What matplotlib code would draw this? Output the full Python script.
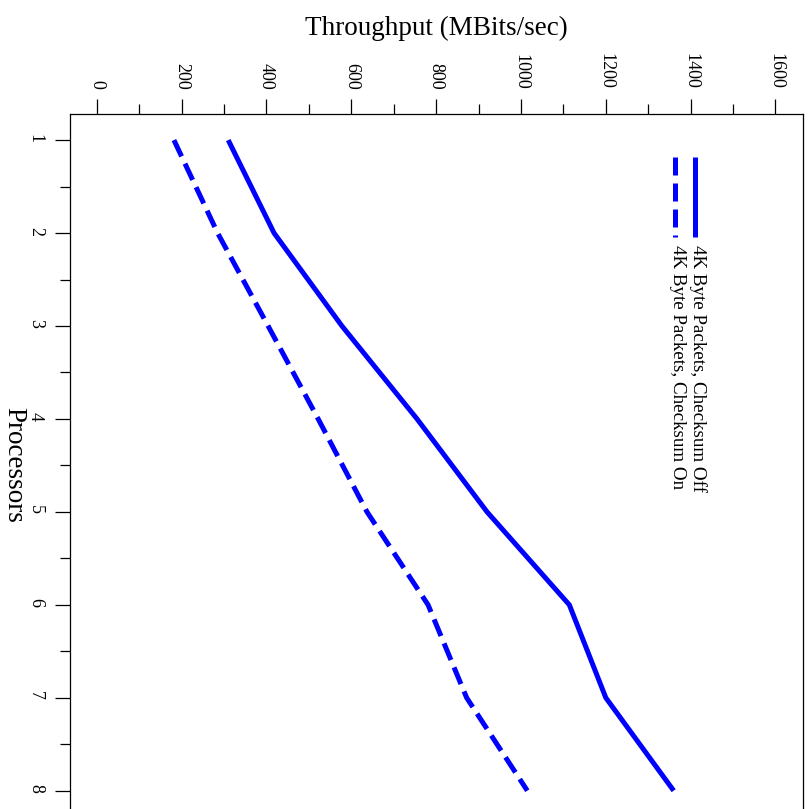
import matplotlib
matplotlib.use("Agg")
import matplotlib.pyplot as plt
from matplotlib.ticker import MultipleLocator

plt.rcParams["font.family"] = ["Liberation Serif", "DejaVu Serif"]

# Throughput per processor count
processors = [1, 2, 3, 4, 5, 6, 7, 8]
checksum_off = [310, 418, 578, 755, 920, 1114, 1200, 1360]
checksum_on = [182, 285, 404, 522, 637, 781, 872, 1015]
labels = ["4K Byte Packets, Checksum Off", "4K Byte Packets, Checksum On"]

fig = plt.figure(figsize=(8.12, 8.09), dpi=100)
ax = fig.add_axes([0.0862, 0.0, 0.9028, 0.859])

# page is turned sideways: throughput runs along the top, processors downwards
ax.plot(checksum_off, processors, color="#0000ff", lw=3.6, solid_capstyle="butt")
ax.plot(checksum_on, processors, color="#0000ff", lw=3.6, dashes=(3.6, 1.6),
        dash_capstyle="butt")

ax.set_xlim(-63, 1665)
ax.set_ylim(8.197, 0.72)

ax.xaxis.tick_top()
ax.xaxis.set_label_position("top")
ax.xaxis.set_major_locator(MultipleLocator(200))
ax.xaxis.set_minor_locator(MultipleLocator(100))
ax.yaxis.set_major_locator(MultipleLocator(1))
ax.yaxis.set_minor_locator(MultipleLocator(0.5))
ax.tick_params(which="major", direction="out", length=10.8, width=0.9,
               labelsize=13, pad=7)
ax.tick_params(which="minor", direction="out", length=7.2, width=0.9)
ax.tick_params(axis="y", pad=8)
for t in ax.get_xticklabels() + ax.get_yticklabels():
    t.set_rotation(270)

ax.spines["bottom"].set_visible(False)
for s in ("top", "left", "right"):
    ax.spines[s].set_linewidth(0.9)

ax.set_xlabel("Throughput (MBits/sec)", fontsize=19.5, labelpad=13)
ax.set_ylabel("Processors", fontsize=19.5, rotation=270, ha="center",
              va="center")
ax.yaxis.set_label_coords(-0.077, 0.495)

# sideways legend
legend_x = [0.853, 0.825]
styles = [dict(), dict(dashes=(3.6, 1.6), dash_capstyle="butt")]
for lx, lab, st in zip(legend_x, labels, styles):
    ax.plot([lx, lx], [0.938, 0.823], transform=ax.transAxes, color="#0000ff",
            lw=3.6, solid_capstyle="butt", **st)
    ax.text(lx + 0.004, 0.812, lab, transform=ax.transAxes, rotation=270,
            ha="center", va="top", fontsize=13.7)

fig.savefig("out.png", dpi=100)
